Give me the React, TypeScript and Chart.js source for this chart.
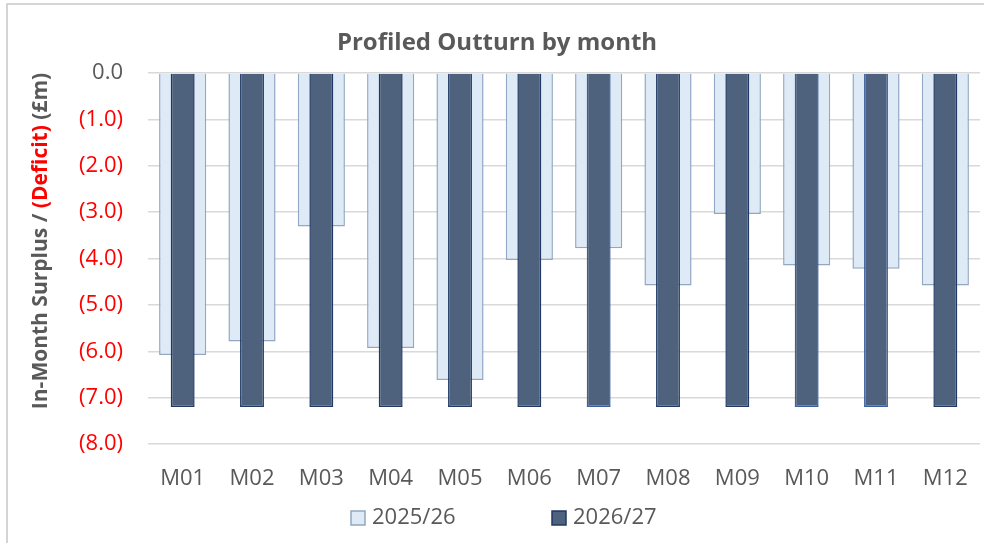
import React, { useEffect, useRef } from "react";
import { Chart, registerables } from "chart.js";

Chart.register(...registerables);

const months = ["M01", "M02", "M03", "M04", "M05", "M06", "M07", "M08", "M09", "M10", "M11", "M12"];
const series2025 = [-6.08, -5.79, -3.31, -5.93, -6.62, -4.03, -3.78, -4.58, -3.04, -4.15, -4.22, -4.58];
const series2026 = [-7.2, -7.2, -7.2, -7.2, -7.2, -7.2, -7.2, -7.2, -7.2, -7.2, -7.2, -7.2];
const seriesNames = ["2025/26", "2026/27"];
const chartTitle = "Profiled Outturn by month";
const yTitleParts = ["In-Month Surplus / ", "(Deficit)", " (£m)"];

const FONT = "'Open Sans', sans-serif";
const GREY = "#595959";
const RED = "#FF0000";
const LIGHT_FILL = "#DEEAF6";
const LIGHT_BORDER = "#93A6C2";
const DARK_FILL = "#4F627D";
const NAVY = "#1F3864";
const BLUE = "#3A5FA0";
const darkBorders = [NAVY, NAVY, NAVY, NAVY, NAVY, NAVY, BLUE, NAVY, NAVY, BLUE, BLUE, NAVY];

const decorPlugin = {
  id: "decor",
  beforeDraw(chart: any) {
    const ctx = chart.ctx;
    ctx.save();
    ctx.strokeStyle = "#C8C8C8";
    ctx.lineWidth = 1.5;
    ctx.beginPath();
    ctx.moveTo(7, 543);
    ctx.lineTo(7, 4);
    ctx.lineTo(984, 4);
    ctx.stroke();
    ctx.restore();
  },
  afterDraw(chart: any) {
    const ctx = chart.ctx;
    ctx.save();
    // title
    ctx.font = `bold 24px ${FONT}`;
    ctx.fillStyle = GREY;
    ctx.textAlign = "center";
    ctx.textBaseline = "alphabetic";
    ctx.fillText(chartTitle, 497, 50);

    // y title (rotated, multi-colour)
    ctx.font = `bold 21px ${FONT}`;
    const widths = yTitleParts.map((p) => ctx.measureText(p).width);
    const total = widths.reduce((a, b) => a + b, 0);
    ctx.translate(41, 241);
    ctx.rotate(-Math.PI / 2);
    ctx.textAlign = "left";
    ctx.textBaseline = "middle";
    let x = -total / 2;
    const colors = [GREY, RED, GREY];
    yTitleParts.forEach((p, i) => {
      ctx.fillStyle = colors[i];
      ctx.fillText(p, x, 0);
      x += widths[i];
    });
    ctx.restore();

    // legend
    ctx.save();
    ctx.font = `22px ${FONT}`;
    ctx.textAlign = "left";
    ctx.textBaseline = "middle";
    const items = [
      { x: 351, fill: LIGHT_FILL, stroke: LIGHT_BORDER, label: seriesNames[0] },
      { x: 552, fill: DARK_FILL, stroke: NAVY, label: seriesNames[1] },
    ];
    items.forEach((it) => {
      ctx.fillStyle = it.fill;
      ctx.strokeStyle = it.stroke;
      ctx.lineWidth = 1.5;
      ctx.fillRect(it.x, 511, 14, 14);
      ctx.strokeRect(it.x, 511, 14, 14);
      ctx.fillStyle = GREY;
      ctx.fillText(it.label, it.x + 21, 518);
    });
    ctx.restore();
  },
};

export default function App() {
  const ref = useRef<HTMLCanvasElement>(null);
  useEffect(() => {
    if (!ref.current) return;
    const chart = new Chart(ref.current, {
      type: "bar",
      data: {
        labels: months,
        datasets: [
          {
            label: seriesNames[0],
            data: series2025,
            backgroundColor: LIGHT_FILL,
            borderColor: LIGHT_BORDER,
            borderWidth: 1.5,
            barPercentage: 0.68,
            categoryPercentage: 1,
            grouped: false,
            order: 2,
          },
          {
            label: seriesNames[1],
            data: series2026,
            backgroundColor: DARK_FILL,
            borderColor: darkBorders,
            borderWidth: 1.5,
            barPercentage: 0.345,
            categoryPercentage: 1,
            grouped: false,
            order: 1,
          },
        ],
      },
      options: {
        animation: false,
        responsive: false,
        layout: { padding: { left: 0, right: 4, top: 73, bottom: 0 } },
        plugins: { legend: { display: false }, title: { display: false }, tooltip: { enabled: false } },
        scales: {
          x: {
            grid: { display: false, drawTicks: false },
            border: { display: false },
            ticks: { color: GREY, font: { family: FONT, size: 22 }, padding: 22, maxRotation: 0 },
            afterFit: (s: any) => {
              s.height = 99;
              s.paddingLeft = 0;
              s.paddingRight = 0;
            },
          },
          y: {
            min: -8,
            max: 0,
            ticks: {
              stepSize: 1,
              padding: 25,
              font: { family: FONT, size: 22 },
              color: (c: any) => (c.tick && c.tick.value < 0 ? RED : GREY),
              callback: (v: any) => (v < 0 ? `(${Math.abs(v).toFixed(1)})` : Number(v).toFixed(1)),
            },
            grid: { color: "#D9D9D9", lineWidth: 1.5, drawTicks: false },
            border: { display: false },
            afterFit: (s: any) => {
              s.width = 148;
            },
          },
        },
      },
      plugins: [decorPlugin],
    });
    return () => chart.destroy();
  }, []);
  return (
    <div style={{ position: "absolute", left: 0, top: 0, width: 984, height: 543, background: "#fff" }}>
      <canvas ref={ref} width={984} height={543} style={{ display: "block" }} />
    </div>
  );
}
